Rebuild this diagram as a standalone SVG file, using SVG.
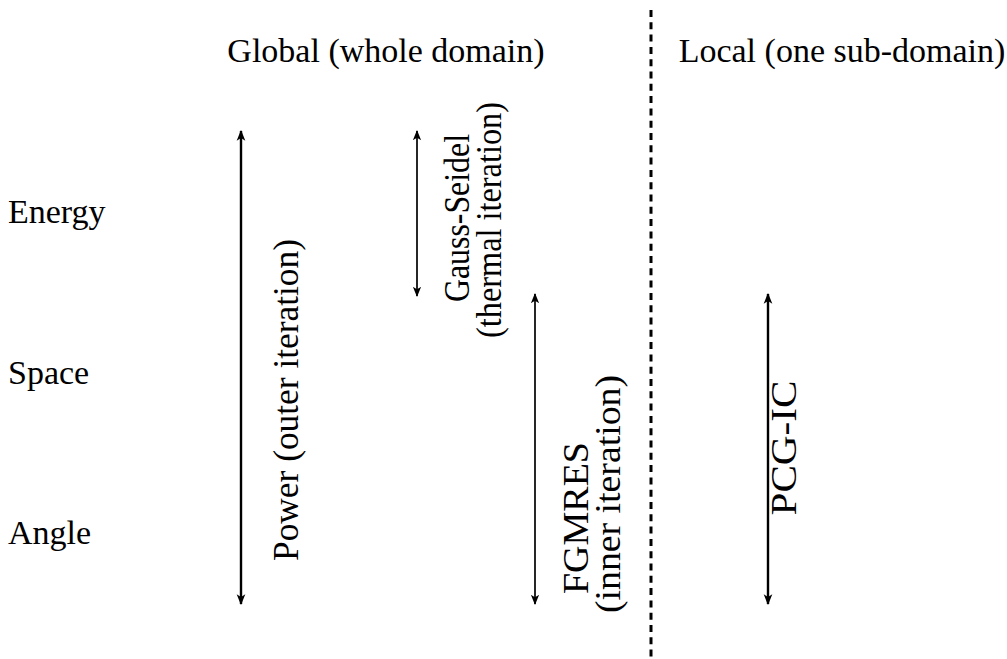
<svg xmlns="http://www.w3.org/2000/svg" width="1007" height="659" viewBox="0 0 1007 659">
<defs>
<marker id="ah" viewBox="0 0 10 10" refX="9" refY="5" markerWidth="4.5" markerHeight="5" orient="auto-start-reverse" markerUnits="strokeWidth">
<path d="M0,1 L10,5 L0,9 L2.5,5 Z" fill="#000"/>
</marker>
<marker id="ahs" viewBox="0 0 10 10" refX="9" refY="5" markerWidth="6" markerHeight="6.5" orient="auto-start-reverse" markerUnits="strokeWidth">
<path d="M0,1 L10,5 L0,9 L2.5,5 Z" fill="#000"/>
</marker>
<style>
text{font-family:"Liberation Serif","Times New Roman",serif;font-size:34px;fill:#000}
.r{font-size:35px}
.arr{stroke:#000;stroke-width:2.4;fill:none;marker-start:url(#ah);marker-end:url(#ah)}
.thin{stroke-width:1.7;marker-start:url(#ahs);marker-end:url(#ahs)}
.div{stroke:#000;stroke-width:3;stroke-dasharray:7 5.3;fill:none}
</style>
</defs>
<rect width="1007" height="659" fill="#fff"/>
<g id="headers">
<text x="386" y="62" text-anchor="middle">Global (whole domain)</text>
<text x="842" y="62" text-anchor="middle">Local (one sub-domain)</text>
</g>
<g id="rows">
<text x="8" y="223">Energy</text>
<text x="8" y="384">Space</text>
<text x="8" y="544">Angle</text>
</g>
<g id="connectors">
<line class="div" x1="651" y1="10" x2="651" y2="659"/>
<line class="arr" x1="241" y1="131" x2="241" y2="604"/>
<line class="arr thin" x1="417" y1="131" x2="417" y2="296"/>
<line class="arr thin" x1="535" y1="294" x2="535" y2="604"/>
<line class="arr" x1="768" y1="294" x2="768" y2="604"/>
</g>
<g id="power">
<text class="r" transform="translate(298,400) rotate(-90)" text-anchor="middle" textLength="322" lengthAdjust="spacingAndGlyphs">Power (outer iteration)</text>
</g>
<g id="gauss">
<text class="r" transform="translate(469,218) rotate(-90)" text-anchor="middle" textLength="168" lengthAdjust="spacingAndGlyphs">Gauss-Seidel</text>
<text class="r" transform="translate(501,220) rotate(-90)" text-anchor="middle" textLength="236" lengthAdjust="spacingAndGlyphs">(thermal iteration)</text>
</g>
<g id="fgmres">
<text class="r" transform="translate(588,518) rotate(-90)" text-anchor="middle" textLength="152" lengthAdjust="spacingAndGlyphs">FGMRES</text>
<text class="r" transform="translate(620,494) rotate(-90)" text-anchor="middle" textLength="238" lengthAdjust="spacingAndGlyphs">(inner iteration)</text>
</g>
<g id="pcg">
<text class="r" transform="translate(796,448) rotate(-90)" text-anchor="middle" textLength="135" lengthAdjust="spacingAndGlyphs">PCG-IC</text>
</g>
</svg>
